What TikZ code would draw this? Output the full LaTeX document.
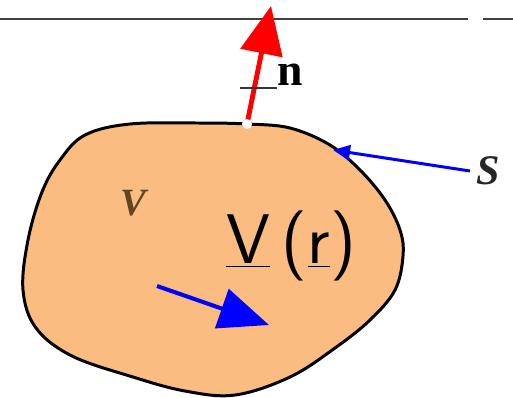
\documentclass[tikz,border=0pt]{standalone}
\usepackage{fontspec}
\usetikzlibrary{arrows.meta}
\newfontfamily\timesfont{Liberation Serif}
\definecolor{peach}{RGB}{250,188,128}
\definecolor{vbrown}{RGB}{95,70,35}
\begin{document}
\begin{tikzpicture}[x=0.02cm,y=-0.02cm]
    \useasboundingbox (0,0) rectangle (513,397);
    % top rule with a small gap
    \draw[black!75,line width=1pt] (0,19) -- (468,19);
    \draw[black!75,line width=1pt] (483,19) -- (513,19);
    % the volume
    \draw[fill=peach,line width=1.7pt] plot[smooth cycle,tension=0.6] coordinates {
        (247,124) (290,128) (330,145) (360,170) (385,200) (400,230) (403,256)
        (395,290) (370,320) (335,348) (290,377) (235,395) (185,391) (133,377)
        (72,356) (36,328) (23,290) (28,240) (42,192) (60,160) (85,135)
        (130,124) (200,123)};
    \coordinate (top) at (247,124);
    \coordinate (ntip) at (271,6);
    \coordinate (edge) at (333,150);
    \coordinate (vstart) at (157,286);
    \coordinate (vtip) at (269,325);
    % normal
    \draw[red,line width=2.8pt,-{Triangle[length=9.6mm,width=8.4mm]}] (top) -- (ntip);
    \fill[white] (top) circle (5);
    \node[font=\timesfont\bfseries\fontsize{26}{28}\selectfont] (n) at (290,75) {n};
    \draw[black!80,line width=0.8pt] (240,88) -- (277,88);
    % surface label
    \node[font=\timesfont\bfseries\itshape\fontsize{24}{26}\selectfont,text=black!85] (s) at (488,171) {S};
    \draw[blue,line width=1.7pt,-{Triangle[length=3.4mm,width=3mm]}] (s.west) -- (edge);
    % volume labels
    \node[font=\timesfont\bfseries\itshape\fontsize{22}{24}\selectfont,text=vbrown] (v) at (133,203) {V};
    \node[font=\sffamily\fontsize{40}{44}\selectfont] (vr) at (291,246) {\underline{V}\,(\underline{r})};
    \draw[blue,line width=2.3pt,-{Triangle[length=10mm,width=8.2mm]}] (vstart) -- (vtip);
\end{tikzpicture}
\end{document}
